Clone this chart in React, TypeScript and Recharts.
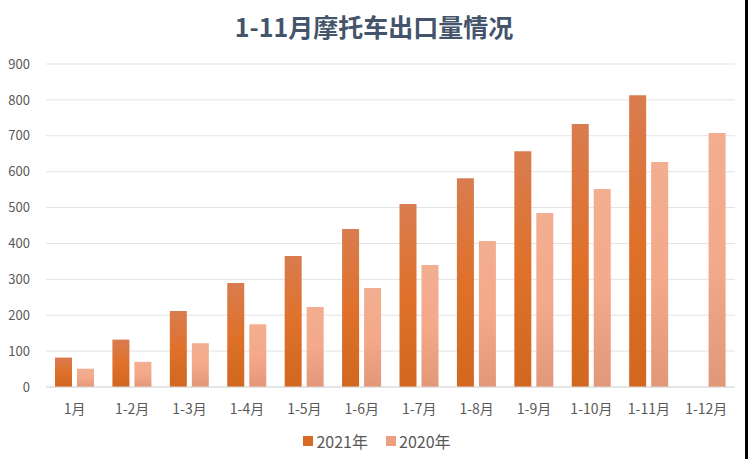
import React from "react";
import { BarChart, Bar, XAxis, YAxis, CartesianGrid } from "recharts";

const categories = ["1月", "1-2月", "1-3月", "1-4月", "1-5月", "1-6月", "1-7月", "1-8月", "1-9月", "1-10月", "1-11月", "1-12月"];
const series2021 = [82, 132, 212, 290, 365, 440, 510, 582, 657, 733, 813, null];
const series2020 = [51, 70, 122, 175, 223, 276, 340, 407, 485, 552, 627, 708];
const yTicks = [0, 100, 200, 300, 400, 500, 600, 700, 800, 900];
const title = "1-11月摩托车出口量情况";
const seriesNames = ["2021年", "2020年"];
const legendColors = ["#D86A26", "#EE9F80"];

const data = categories.map((c, i) => ({ name: c, y2021: series2021[i], y2020: series2020[i] }));

const FONT = '"Microsoft YaHei", "Noto Sans CJK SC", sans-serif';

export default function App() {
  return (
    <div style={{ position: "absolute", left: 0, top: 0, width: 748, height: 459, background: "#fff", overflow: "hidden" }}>
      <div
        style={{
          position: "absolute",
          top: 9,
          left: 0,
          width: 748,
          textAlign: "center",
          fontFamily: FONT,
          fontWeight: "bold",
          fontSize: 25,
          color: "#44546A",
          lineHeight: "34px",
        }}
      >
        {title}
      </div>
      <BarChart
        width={735}
        height={459}
        data={data}
        margin={{ top: 64, right: 0, bottom: 0, left: 1 }}
        barSize={17}
        barGap={5}
      >
        <defs>
          <linearGradient id="g2021" x1="0" y1="0" x2="0" y2="1">
            <stop offset="0%" stopColor="#D97C4F" />
            <stop offset="50%" stopColor="#DF712B" />
            <stop offset="100%" stopColor="#D2671F" />
          </linearGradient>
          <linearGradient id="g2020" x1="0" y1="0" x2="0" y2="1">
            <stop offset="0%" stopColor="#F2AE90" />
            <stop offset="50%" stopColor="#F4A98A" />
            <stop offset="100%" stopColor="#E29778" />
          </linearGradient>
        </defs>
        <CartesianGrid vertical={false} stroke="#E3E3E3" />
        <XAxis
          dataKey="name"
          axisLine={{ stroke: "#D9D9D9" }}
          tickLine={false}
          tick={{ fill: "#595959", fontSize: 14, fontFamily: FONT }}
          tickMargin={11}
          height={72}
          interval={0}
        />
        <YAxis
          domain={[0, 900]}
          ticks={yTicks}
          axisLine={false}
          tickLine={false}
          tickMargin={10}
          width={45}
          tick={{ fill: "#595959", fontSize: 13, fontFamily: FONT }}
        />
        <Bar dataKey="y2021" name={seriesNames[0]} fill="url(#g2021)" isAnimationActive={false} />
        <Bar dataKey="y2020" name={seriesNames[1]} fill="url(#g2020)" isAnimationActive={false} />
      </BarChart>
      <div
        style={{
          position: "absolute",
          top: 431,
          left: 0,
          width: 754,
          display: "flex",
          justifyContent: "center",
          fontFamily: FONT,
          fontSize: 16,
          color: "#595959",
          lineHeight: "20px",
        }}
      >
        {seriesNames.map((n, i) => (
          <div key={n} style={{ display: "flex", alignItems: "center", marginRight: i === 0 ? 18 : 0 }}>
            <div style={{ width: 10, height: 10, background: legendColors[i], marginRight: 3 }} />
            <span>{n}</span>
          </div>
        ))}
      </div>
      <div style={{ position: "absolute", top: 0, left: 745, width: 3, height: 459, background: "#000" }} />
    </div>
  );
}
